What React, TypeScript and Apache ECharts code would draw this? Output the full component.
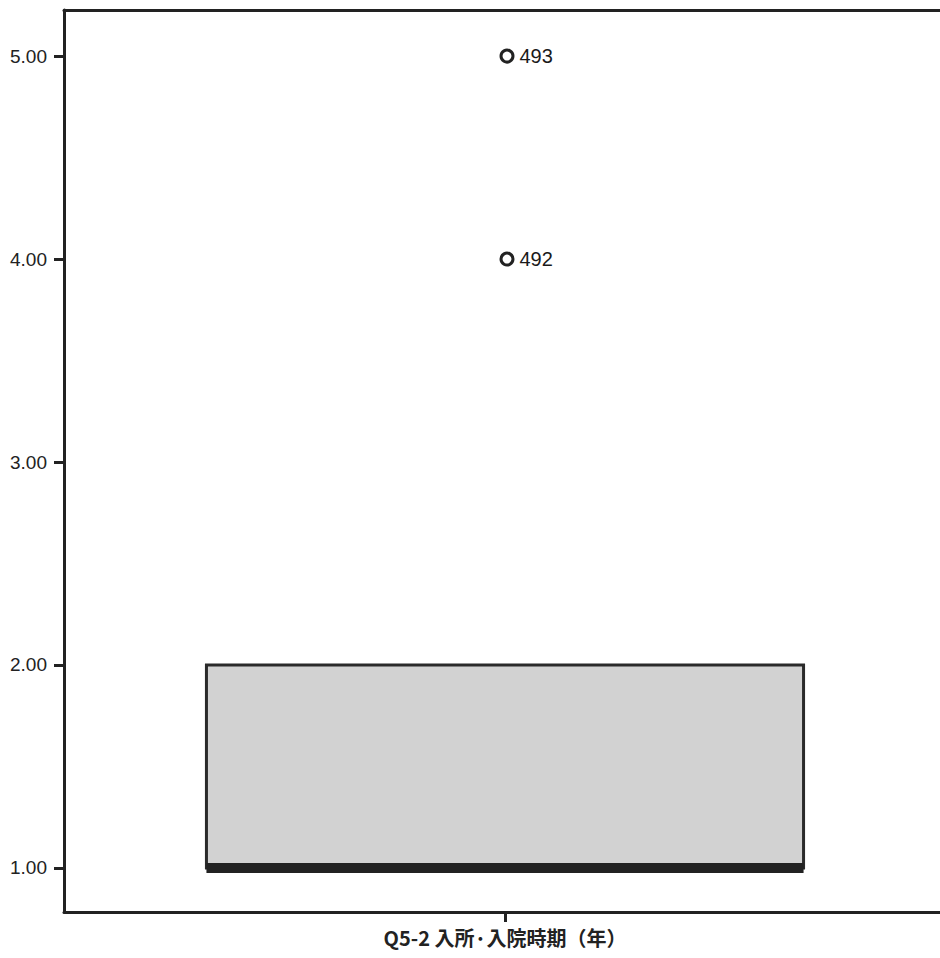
import React, { useEffect, useRef } from "react";
import * as echarts from "echarts";

const categories = ["Q5-2 入所·入院時期（年）"];
// [min, Q1, median, Q3, max]
const boxStats = [1, 1, 1, 2, 2];
const outlierValues = [5, 4];
const outlierIds = ["493", "492"];
const yTickValues = [1, 2, 3, 4, 5];

const FONT = "'Noto Sans CJK JP', 'Noto Sans', sans-serif";
const NUMFONT = "'Liberation Sans', Arial, sans-serif";
const DARK = "#222";

export default function App() {
  const ref = useRef<HTMLDivElement>(null);
  useEffect(() => {
    if (!ref.current) return;
    const chart = echarts.init(ref.current, null, { renderer: "svg" });
    chart.setOption({
      animation: false,
      backgroundColor: "#fff",
      grid: { left: 64, top: 10, right: 4, bottom: 46, containLabel: false },
      xAxis: [
        {
          type: "category",
          data: categories,
          axisLine: { show: true, lineStyle: { color: DARK, width: 3 } },
          axisTick: { show: true, alignWithLabel: true, length: 10, lineStyle: { color: DARK, width: 3 } },
          axisLabel: { color: DARK, fontFamily: FONT, fontSize: 20, fontWeight: "bold", margin: 15 },
          splitLine: { show: false },
        },
        {
          type: "category",
          data: categories,
          position: "top",
          axisLine: { show: true, lineStyle: { color: DARK, width: 3 } },
          axisTick: { show: false },
          axisLabel: { show: false },
        },
      ],
      yAxis: {
        type: "value",
        min: 0.783,
        max: 5.227,
        axisLine: { show: true, lineStyle: { color: DARK, width: 3 } },
        axisTick: { show: true, length: 10, lineStyle: { color: DARK, width: 3 }, customValues: yTickValues },
        axisLabel: {
          color: DARK,
          fontFamily: NUMFONT,
          fontSize: 19,
          margin: 17,
          customValues: yTickValues,
          formatter: (v: number) => v.toFixed(2),
        },
        splitLine: { show: false },
      },
      series: [
        {
          type: "custom",
          xAxisIndex: 0,
          data: [[0, ...boxStats]],
          encode: { x: 0, y: [1, 2, 3, 4, 5] },
          renderItem: (params: any, api: any) => {
            const x = api.value(0);
            const q1 = api.coord([x, api.value(2)]);
            const med = api.coord([x, api.value(3)]);
            const q3 = api.coord([x, api.value(4)]);
            const band = api.size([1, 0])[0];
            const w = band * 0.677;
            return {
              type: "group",
              children: [
                {
                  type: "rect",
                  shape: { x: q1[0] - w / 2, y: q3[1], width: w, height: q1[1] - q3[1] },
                  style: { fill: "#d2d2d2", stroke: "#2a2a2a", lineWidth: 3 },
                },
                {
                  type: "line",
                  shape: { x1: med[0] - w / 2, y1: med[1], x2: med[0] + w / 2, y2: med[1] },
                  style: { stroke: DARK, lineWidth: 10 },
                },
              ],
            };
          },
        },
        {
          type: "scatter",
          xAxisIndex: 0,
          data: outlierValues.map((v, i) => ({ value: [0, v], name: outlierIds[i] })),
          symbol: "circle",
          symbolSize: 12,
          symbolOffset: [2, 0],
          itemStyle: { color: "#fff", borderColor: DARK, borderWidth: 3, opacity: 1 },
          label: {
            show: true,
            position: "right",
            distance: 5,
            formatter: (p: any) => p.name,
            color: "#1a1a1a",
            fontFamily: NUMFONT,
            fontSize: 20,
          },
        },
      ],
    });
    return () => chart.dispose();
  }, []);
  return (
    <div
      ref={ref}
      style={{ position: "fixed", left: 0, top: 0, width: 950, height: 958, background: "#fff" }}
    />
  );
}
